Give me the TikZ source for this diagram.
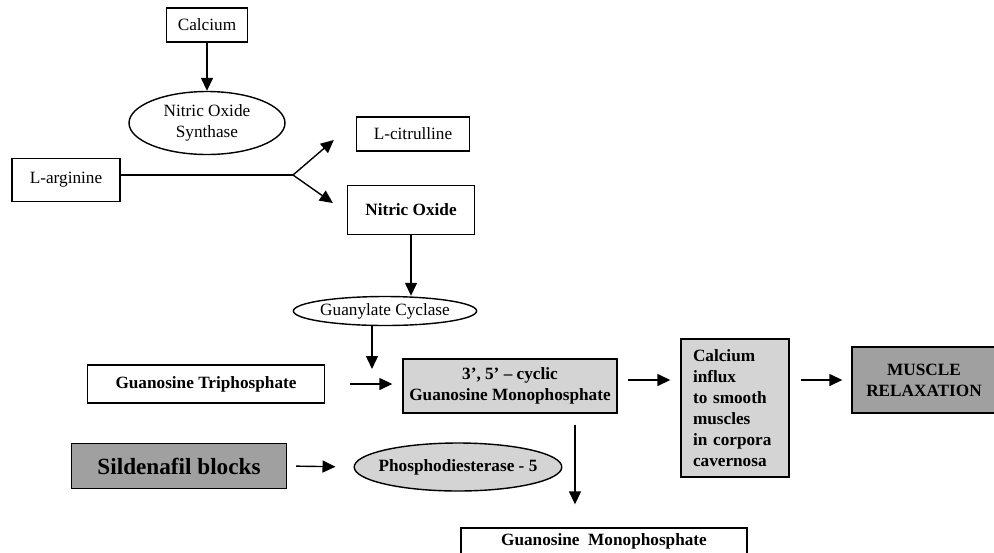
\documentclass[tikz,border=0pt]{standalone}
\usepackage{fontspec}
\setmainfont{Liberation Serif}
\usepackage{tikz}
\usetikzlibrary{arrows.meta,positioning,shapes.geometric}

\definecolor{lightfill}{RGB}{212,212,212}
\definecolor{darkfill}{RGB}{160,160,160}

\begin{document}
\begin{tikzpicture}[
    x=0.02cm, y=-0.02cm,
    block/.style={draw, line width=0.8pt, inner sep=0pt, align=center, font=\fontsize{9.8}{12}\selectfont},
    oval/.style={block, ellipse},
    arrow/.style={-{Triangle[length=0.26cm, width=0.24cm]}, line width=0.8pt},
  ]
  \useasboundingbox (0,0) rectangle (994,552);
  \clip (0,0) rectangle (994,552);
  % top part: NO synthesis
  \node[block, minimum width=1.62cm, minimum height=0.68cm] (calcium) at (207,25) {Calcium};
  \node[oval, minimum width=3.12cm, minimum height=1.26cm] (nos) at (207,123) {Nitric Oxide\\Synthase};
  \node[block, minimum width=2.16cm, minimum height=0.86cm] (larg) at (66,180) {L-arginine};
  \node[block, minimum width=2.26cm, minimum height=0.68cm] (citr) at (413,134) {L-citrulline};
  \node[block, minimum width=2.54cm, minimum height=0.98cm, font=\fontsize{9.8}{12}\selectfont\bfseries] (no) at (411,210) {Nitric Oxide};
  \node[oval, minimum width=3.66cm, minimum height=0.58cm] (gc) at (385,311) {Guanylate Cyclase};
  \coordinate (fork) at (293,175);
  \coordinate (gcend) at (372,369);
  \draw[arrow] (calcium) -- (nos);
  \draw[line width=0.8pt] (larg.east |- fork) -- (fork);
  \draw[arrow] (fork) -- ([shift={(-22,6)}]citr.west);
  \draw[arrow] (fork) -- ([shift={(-14,-7)}]no.west);
  \draw[arrow] (no.south) -- (no.south |- gc.north);
  \draw[arrow] (gc.south -| gcend) -- (gcend);
  % main row
  \tikzset{block/.append style={font=\fontsize{9.8}{12}\selectfont\bfseries}}
  \node[block, minimum width=4.74cm, minimum height=0.76cm] (gtp) at (206,384) {Guanosine Triphosphate};
  \node[block, fill=lightfill, minimum width=4.28cm, minimum height=1.08cm] (cgmp) at (510,386) {3’, 5’ -- cyclic\\Guanosine Monophosphate};
  \node[block, fill=lightfill, minimum height=2.76cm, inner xsep=0.24cm, text width=1.68cm, align=left] (influx) at (735,408) {Calcium\\influx\\to smooth\\muscles\\in corpora\\cavernosa};
  \node[block, fill=darkfill, minimum width=2.88cm, minimum height=1.32cm] (muscle) at (924,380) {MUSCLE\\RELAXATION};
  \draw[arrow, shorten <=0.5cm, shorten >=0.2cm] (gtp.east) -- (cgmp.west |- gtp.east);
  \draw[arrow, shorten <=0.2cm, shorten >=0.2cm] (cgmp.east |- muscle.west) -- (influx.west |- muscle.west);
  \draw[arrow, shorten <=0.22cm, shorten >=0.18cm] (influx.east |- muscle.west) -- (muscle.west);
  % inhibition row
  \node[block, fill=darkfill, minimum width=4.3cm, minimum height=0.9cm, font=\fontsize{13.2}{15}\selectfont\bfseries] (sild) at (179,466) {Sildenafil blocks};
  \node[oval, fill=lightfill, inner xsep=-0.12cm, minimum width=4.1cm, minimum height=0.96cm] (pde) at (458,467) {Phosphodiesterase - 5};
  \node[block, minimum width=5.72cm, minimum height=0.52cm] (gmp) at (604,541) {Guanosine\ \ Monophosphate};
  \draw[arrow, shorten <=0.18cm, shorten >=0.36cm] (sild.east) -- (pde.west);
  \draw[arrow, shorten <=0.22cm, shorten >=0.46cm] ([xshift=1.3cm]cgmp.south) -- ([xshift=1.3cm]cgmp.south |- gmp.north);
\end{tikzpicture}
\end{document}
